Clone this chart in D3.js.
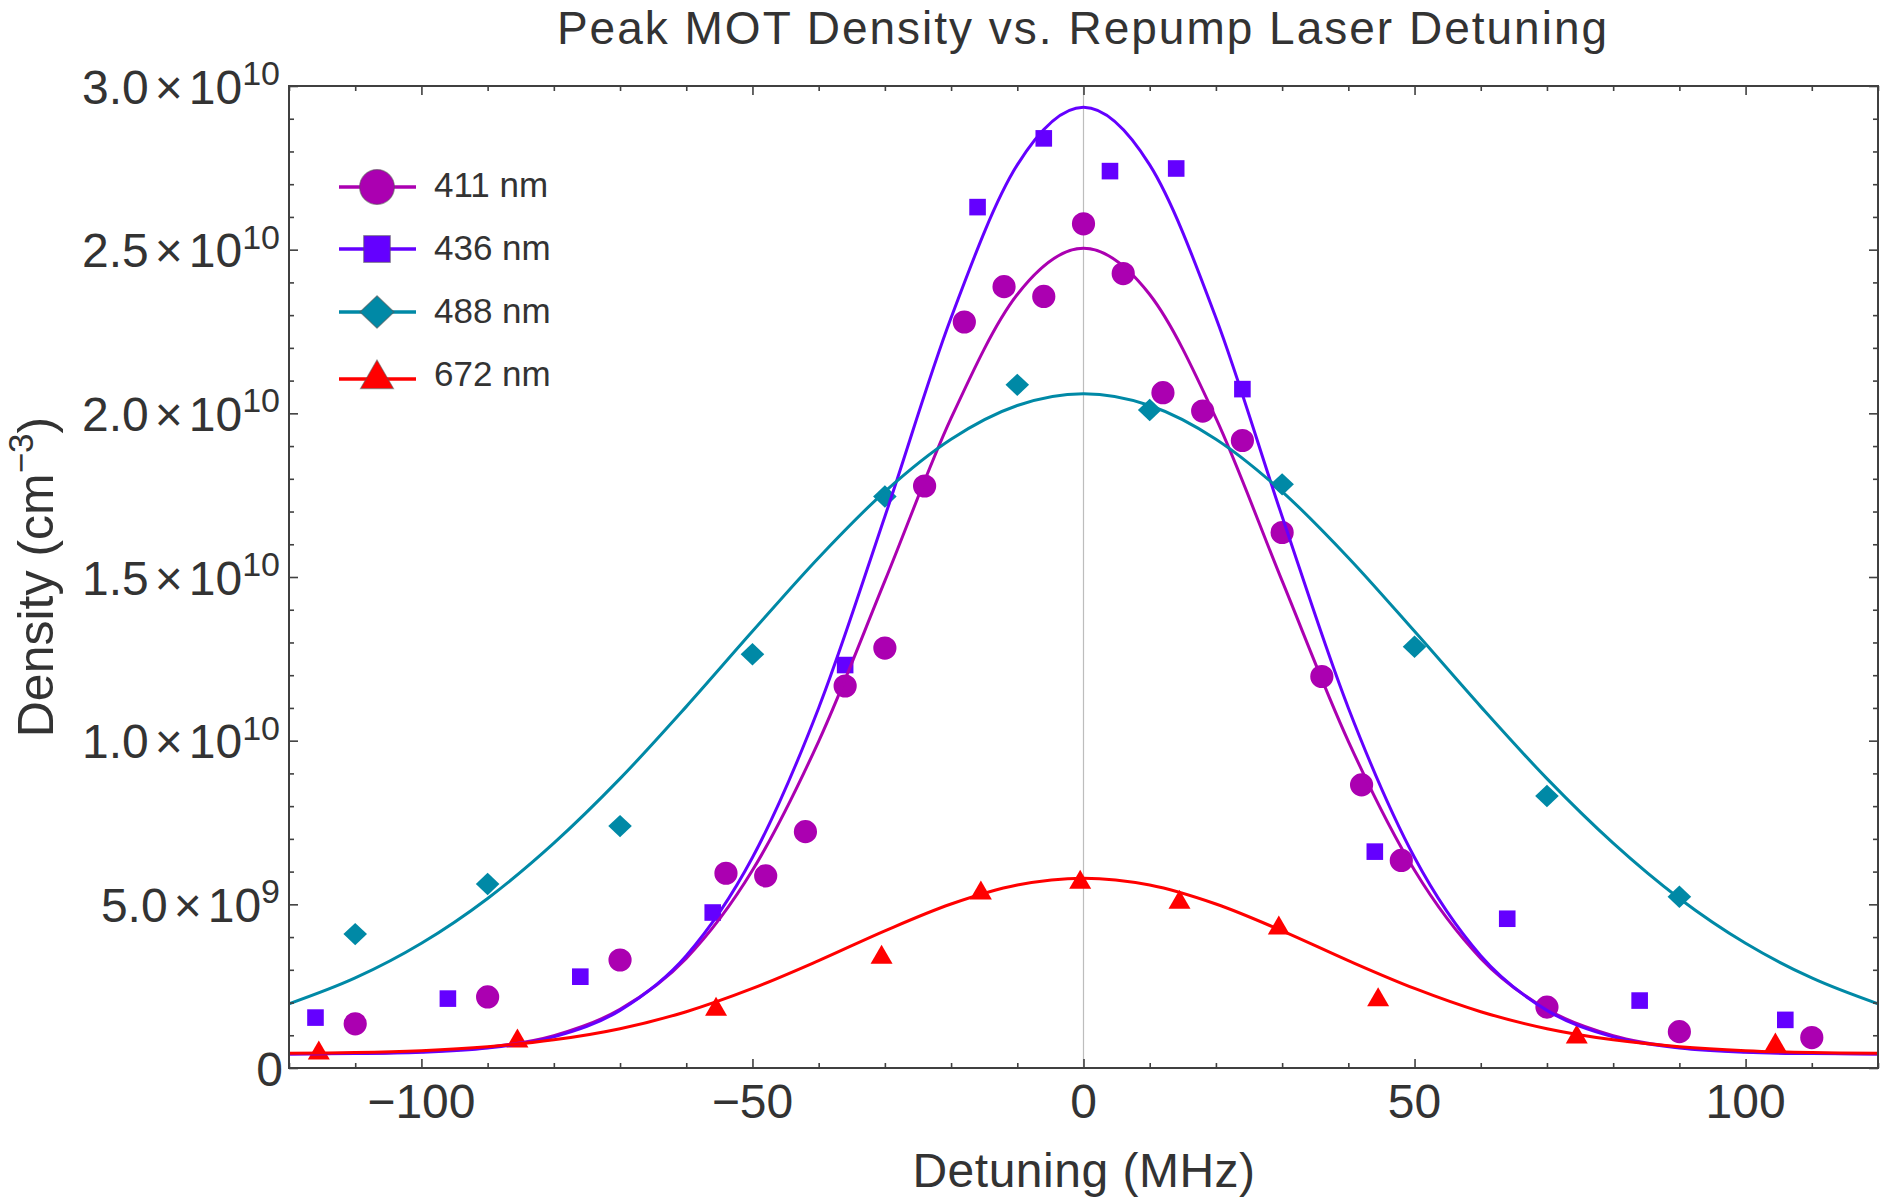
<!DOCTYPE html>
<head>
  <meta charset="utf-8">
  <script src="https://d3js.org/d3.v7.min.js"></script>
  <style>
    body { margin: 0; background: #fff; }
    * { font-family: "Liberation Sans", Arial, sans-serif; }
  </style>
</head>

<body>

  <svg width="1882" height="1203"></svg>

  <script>
    // series
    const labels = ["411 nm", "436 nm", "488 nm", "672 nm"];
    const colors = ["#ab00b1", "#6400ff", "#0089a6", "#ff0000"];
    const shapes = ["circle", "square", "diamond", "triangle"];

    // measured points, density in units of 1e9 cm^-3
    const x411 = [-110, -90, -70, -54, -48, -42, -36, -30, -24, -18, -12, -6, 0, 6, 12, 18, 24, 30, 36, 42, 48, 70, 90, 110];
    const y411 = [1.35, 2.17, 3.30, 5.95, 5.87, 7.22, 11.67, 12.83, 17.78, 22.79, 23.87, 23.57, 25.79, 24.27, 20.63, 20.07, 19.17, 16.36, 11.96, 8.65, 6.34, 1.86, 1.11, 0.93];

    const x436 = [-116, -96, -76, -56, -36, -16, -6, 4, 14, 24, 44, 64, 84, 106];
    const y436 = [1.54, 2.12, 2.79, 4.75, 12.31, 26.3, 28.4, 27.4, 27.48, 20.74, 6.61, 4.56, 2.06, 1.47];

    const x488 = [-110, -90, -70, -50, -30, -10, 10, 30, 50, 70, 90];
    const y488 = [4.09, 5.62, 7.39, 12.64, 17.46, 20.87, 20.1, 17.83, 12.87, 8.31, 5.23];

    const x672 = [-115.5, -85.5, -55.5, -30.5, -15.5, -0.5, 14.5, 29.5, 44.5, 74.5, 104.5];
    const y672 = [0.45, 0.82, 1.79, 3.38, 5.34, 5.67, 5.06, 4.27, 2.08, 0.94, 0.70];

    // fitted curves every 10 MHz
    const fitX = [-120, -110, -100, -90, -80, -70, -60, -50, -40, -30, -20, -10, 0, 10, 20, 30, 40, 50, 60, 70, 80, 90, 100, 110, 120];
    const fit411 = [0.43, 0.45, 0.50, 0.63, 0.99, 1.79, 3.35, 6.04, 9.98, 14.88, 19.85, 23.63, 25.04, 23.63, 19.85, 14.88, 9.98, 6.04, 3.35, 1.79, 0.99, 0.63, 0.50, 0.45, 0.43];
    const fit436 = [0.43, 0.44, 0.48, 0.61, 0.95, 1.76, 3.43, 6.43, 11.00, 16.85, 22.92, 27.59, 29.35, 27.59, 22.92, 16.85, 11.00, 6.43, 3.43, 1.76, 0.95, 0.61, 0.48, 0.44, 0.43];
    const fit488 = [1.96, 2.75, 3.81, 5.18, 6.87, 8.84, 11.04, 13.34, 15.59, 17.61, 19.21, 20.24, 20.6, 20.24, 19.21, 17.61, 15.59, 13.34, 11.04, 8.84, 6.87, 5.18, 3.81, 2.75, 1.96];
    const fit672 = [0.45, 0.47, 0.53, 0.65, 0.86, 1.20, 1.72, 2.43, 3.28, 4.19, 5.01, 5.59, 5.80, 5.59, 5.01, 4.19, 3.28, 2.43, 1.72, 1.20, 0.86, 0.65, 0.53, 0.47, 0.45];

    // ticks
    const xMajor = [-100, -50, 0, 50, 100];
    const xMajorLabels = ["\u2212100", "\u221250", "0", "50", "100"];
    const xMinor = [-120, -110, -90, -80, -70, -60, -40, -30, -20, -10, 10, 20, 30, 40, 60, 70, 80, 90, 110, 120];
    const yMajor = [0, 5, 10, 15, 20, 25, 30];
    const yMant = ["0", "5.0", "1.0", "1.5", "2.0", "2.5", "3.0"];
    const yExp = ["", "9", "10", "10", "10", "10", "10"];
    const yMinor = [1, 2, 3, 4, 6, 7, 8, 9, 11, 12, 13, 14, 16, 17, 18, 19, 21, 22, 23, 24, 26, 27, 28, 29];

    const pointsX = [x411, x436, x488, x672];
    const pointsY = [y411, y436, y488, y672];
    const fits = [fit411, fit436, fit488, fit672];

    const svg = d3.select("svg");
    const plotLeft = 289, plotRight = 1878, plotTop = 86, plotBottom = 1068;
    const textColor = "#333";
    const frameColor = "#404040";

    const x = d3.scaleLinear().domain([-120, 120]).range([plotLeft, plotRight]);
    const y = d3.scaleLinear().domain([0, 30]).range([plotBottom, plotTop]);

    svg.append("defs").append("clipPath").attr("id", "plot-clip")
      .append("rect")
      .attr("x", plotLeft).attr("y", plotTop)
      .attr("width", plotRight - plotLeft).attr("height", plotBottom - plotTop);

    // zero line
    svg.append("line")
      .attr("x1", x(0)).attr("x2", x(0))
      .attr("y1", plotTop).attr("y2", plotBottom)
      .attr("stroke", "#bdbdbd")
      .attr("stroke-width", 1.2);

    function markerPath(shape, k) {
      const p = d3.path();
      if (shape === "circle") {
        const r = 11.6 * k;
        p.arc(0, 0, r, 0, 2 * Math.PI);
      } else if (shape === "square") {
        const h = 8.3 * k;
        p.rect(-h, -h, 2 * h, 2 * h);
      } else if (shape === "diamond") {
        const w = 11.8 * k, hh = 11.2 * k;
        p.moveTo(0, -hh); p.lineTo(w, 0); p.lineTo(0, hh); p.lineTo(-w, 0); p.closePath();
      } else {
        const s = 22 * k;
        const hgt = s * Math.sqrt(3) / 2;
        p.moveTo(0, -2 * hgt / 3); p.lineTo(s / 2, hgt / 3); p.lineTo(-s / 2, hgt / 3); p.closePath();
      }
      return p.toString();
    }

    // data points
    const pts = svg.append("g").attr("clip-path", "url(#plot-clip)");
    labels.forEach((lab, i) => {
      const data = pointsX[i].map((v, j) => [v, pointsY[i][j]]);
      pts.append("g").selectAll("path")
        .data(data)
        .join("path")
        .attr("transform", d => `translate(${x(d[0])},${y(d[1])})`)
        .attr("d", markerPath(shapes[i], 1))
        .attr("fill", colors[i]);
    });

    // fitted curves
    const line = d3.line()
      .x((d, j) => x(fitX[j]))
      .y(d => y(d))
      .curve(d3.curveMonotoneX);
    const curves = svg.append("g").attr("clip-path", "url(#plot-clip)");
    fits.forEach((f, i) => {
      curves.append("path")
        .attr("d", line(f))
        .attr("fill", "none")
        .attr("stroke", colors[i])
        .attr("stroke-width", 3);
    });

    // frame ticks, pointing inward on all four sides
    function styleAxis(g) {
      g.select(".domain").remove();
      g.selectAll("line").attr("stroke", frameColor).attr("stroke-width", 1.6);
      g.selectAll("text").remove();
    }
    const axes = [
      [d3.axisBottom(x), `translate(0,${plotBottom})`, xMajor, xMinor],
      [d3.axisTop(x), `translate(0,${plotTop})`, xMajor, xMinor],
      [d3.axisLeft(y), `translate(${plotLeft},0)`, yMajor, yMinor],
      [d3.axisRight(y), `translate(${plotRight},0)`, yMajor, yMinor]
    ];
    axes.forEach(([ax, tr, major, minor]) => {
      svg.append("g").attr("transform", tr)
        .call(ax.tickValues(major).tickSize(-9).tickFormat(""))
        .call(styleAxis);
      svg.append("g").attr("transform", tr)
        .call(ax.tickValues(minor).tickSize(-5).tickFormat(""))
        .call(styleAxis);
    });

    svg.append("rect")
      .attr("x", plotLeft).attr("y", plotTop)
      .attr("width", plotRight - plotLeft).attr("height", plotBottom - plotTop)
      .attr("fill", "none")
      .attr("stroke", frameColor)
      .attr("stroke-width", 2);

    // x tick labels
    svg.append("g").selectAll("text")
      .data(xMajor)
      .join("text")
      .attr("x", d => x(d))
      .attr("y", 1118)
      .attr("text-anchor", "middle")
      .attr("font-size", 48)
      .attr("fill", textColor)
      .text((d, i) => xMajorLabels[i]);

    // y tick labels with powers of ten
    yMajor.forEach((v, i) => {
      const t = svg.append("text")
        .attr("x", yExp[i] ? 280 : 283)
        .attr("y", y(v) + 17.5)
        .attr("text-anchor", "end")
        .attr("font-size", 48)
        .attr("fill", textColor);
      t.append("tspan").text(yMant[i]);
      if (yExp[i]) {
        t.append("tspan").attr("dx", 6).text("\u00d7");
        t.append("tspan").attr("dx", 6).text("10");
        t.append("tspan").attr("dy", -18.5).attr("font-size", 34).text(yExp[i]);
      }
    });

    // title and axis titles
    svg.append("text")
      .attr("x", 1083).attr("y", 44)
      .attr("text-anchor", "middle")
      .attr("font-size", 46)
      .attr("letter-spacing", 2)
      .attr("fill", textColor)
      .text("Peak MOT Density vs. Repump Laser Detuning");

    svg.append("text")
      .attr("x", 1084).attr("y", 1187)
      .attr("text-anchor", "middle")
      .attr("font-size", 48)
      .attr("letter-spacing", 0.5)
      .attr("fill", textColor)
      .text("Detuning (MHz)");

    const yt = svg.append("text")
      .attr("transform", "translate(53,577) rotate(-90)")
      .attr("text-anchor", "middle")
      .attr("font-size", 50)
      .attr("fill", textColor);
    yt.append("tspan").text("Density (cm");
    yt.append("tspan").attr("dy", -20).attr("font-size", 35).text("\u22123");
    yt.append("tspan").attr("dy", 20).text(")");

    // legend
    const legendY = [187, 249, 312, 379];
    const legendTextY = [197, 260, 323, 386];
    const legendK = [1.5, 1.6, 1.45, 1.5];
    const legend = svg.append("g");
    labels.forEach((lab, i) => {
      const g = legend.append("g").attr("transform", `translate(0,${legendY[i]})`);
      g.append("line")
        .attr("x1", 339).attr("x2", 416)
        .attr("stroke", colors[i])
        .attr("stroke-width", 3.5);
      g.append("path")
        .attr("transform", "translate(377,0)")
        .attr("d", markerPath(shapes[i], legendK[i]))
        .attr("fill", colors[i])
        .attr("stroke", "#555")
        .attr("stroke-opacity", 0.55)
        .attr("stroke-width", 1.2);
      legend.append("text")
        .attr("x", 434).attr("y", legendTextY[i])
        .attr("font-size", 35)
        .attr("fill", textColor)
        .text(lab);
    });
  </script>
</body>
